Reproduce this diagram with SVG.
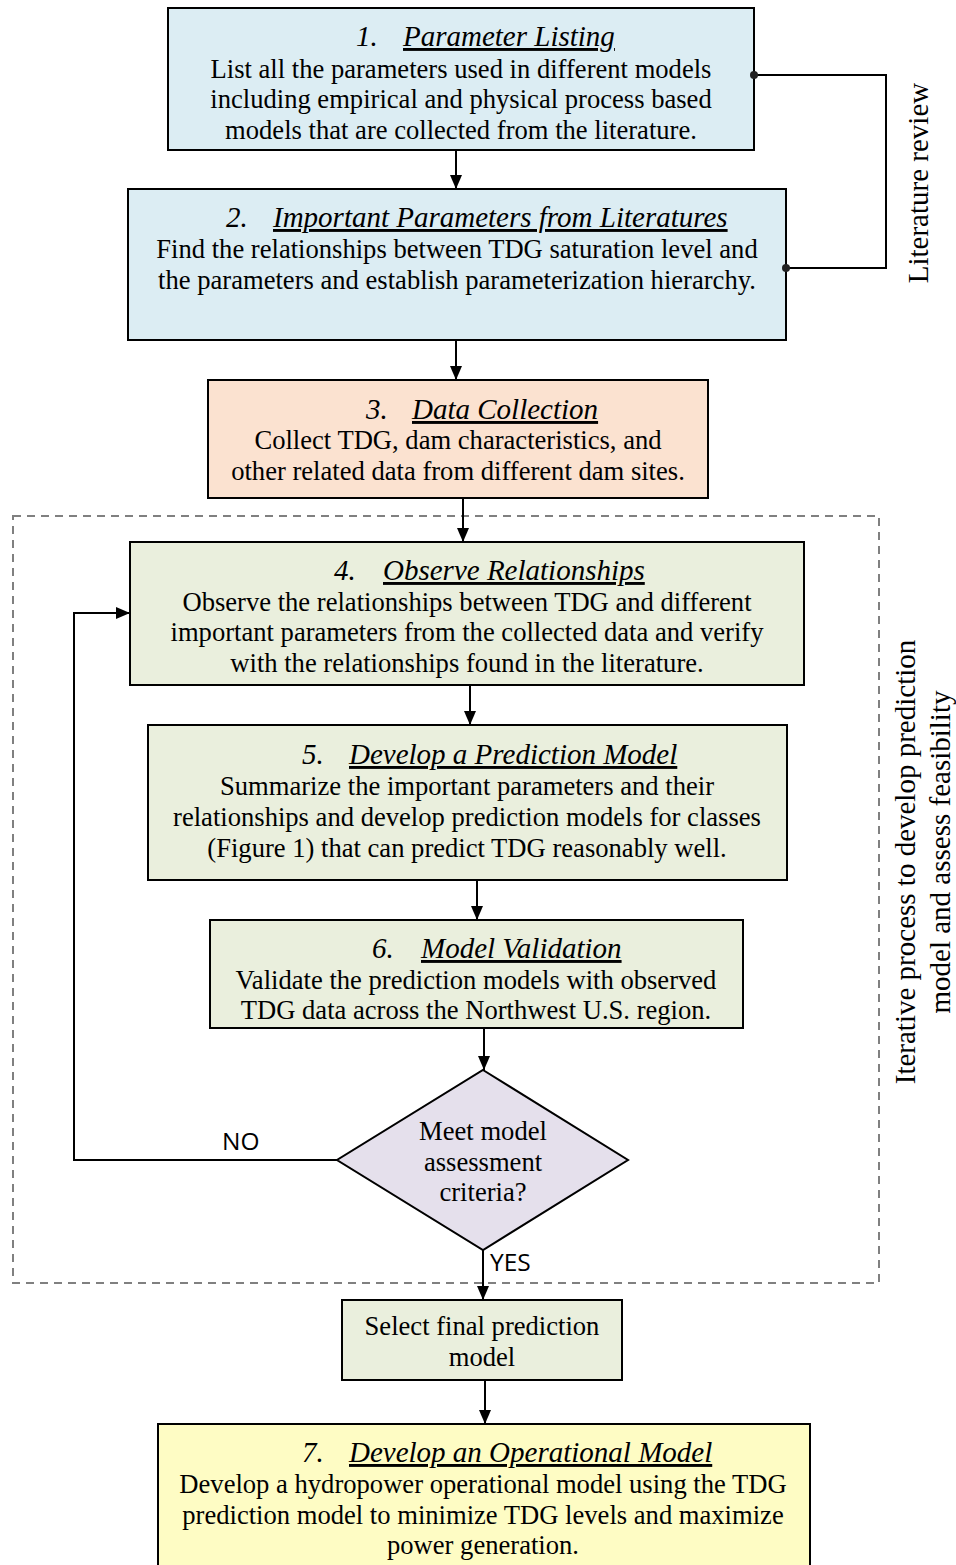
<svg xmlns="http://www.w3.org/2000/svg" width="956" height="1565" viewBox="0 0 956 1565">
<style>
.box{stroke:#000;stroke-width:2}
.t{font-family:"Liberation Serif","Times New Roman",serif;font-size:26.6px;fill:#000}
.c{text-anchor:middle}
.h{font-style:italic;font-size:29px}
.u{text-decoration:underline}
.v{font-size:29px}
.s{font-family:"Open Sans","DejaVu Sans",sans-serif;font-size:24.5px;fill:#000}
.ln{fill:none;stroke:#000;stroke-width:2}
</style>
<defs>
<marker id="ah" markerWidth="14" markerHeight="12" refX="14" refY="6" orient="auto" markerUnits="userSpaceOnUse">
<path d="M0,0 L14,6 L0,12 z" fill="#000"/>
</marker>
</defs>
<rect width="956" height="1565" fill="#fff"/>
<g id="iterative-frame">
<rect x="13" y="516" width="866" height="767" fill="none" stroke="#808080" stroke-width="2" stroke-dasharray="8,6"/>
<text class="t c v" transform="translate(915,862) rotate(-90)">Iterative process to develop prediction</text>
<text class="t c v" transform="translate(950,852) rotate(-90)">model and assess feasibility</text>
</g>
<g id="n1">
<rect class="box" x="168" y="8" width="586" height="142" fill="#dcedf3"/>
<text class="t h" x="356" y="46">1.</text>
<text class="t h u" x="403" y="46">Parameter Listing</text>
<text class="t c" x="461" y="78">List all the parameters used in different models</text>
<text class="t c" x="461" y="108">including empirical and physical process based</text>
<text class="t c" x="461" y="139">models that are collected from the literature.</text>
</g>
<g id="n2">
<rect class="box" x="128" y="189" width="658" height="151" fill="#dcedf3"/>
<text class="t h" x="226" y="227">2.</text>
<text class="t h u" x="273" y="227">Important Parameters from Literatures</text>
<text class="t c" x="457" y="258">Find the relationships between TDG saturation level and</text>
<text class="t c" x="457" y="289">the parameters and establish parameterization hierarchy.</text>
</g>
<g id="lit">
<text class="t c v" transform="translate(928,183) rotate(-90)">Literature review</text>
</g>
<g id="n3">
<rect class="box" x="208" y="380" width="500" height="118" fill="#fbe2d0"/>
<text class="t h" x="366" y="419">3.</text>
<text class="t h u" x="412" y="419">Data Collection</text>
<text class="t c" x="458" y="449">Collect TDG, dam characteristics, and</text>
<text class="t c" x="458" y="480">other related data from different dam sites.</text>
</g>
<g id="n4">
<rect class="box" x="130" y="542" width="674" height="143" fill="#eaefdd"/>
<text class="t h" x="334" y="580">4.</text>
<text class="t h u" x="383" y="580">Observe Relationships</text>
<text class="t c" x="467" y="611">Observe the relationships between TDG and different</text>
<text class="t c" x="467" y="641">important parameters from the collected data and verify</text>
<text class="t c" x="467" y="672">with the relationships found in the literature.</text>
</g>
<g id="n5">
<rect class="box" x="148" y="725" width="639" height="155" fill="#eaefdd"/>
<text class="t h" x="302" y="764">5.</text>
<text class="t h u" x="349" y="764">Develop a Prediction Model</text>
<text class="t c" x="467" y="795">Summarize the important parameters and their</text>
<text class="t c" x="467" y="826">relationships and develop prediction models for classes</text>
<text class="t c" x="467" y="857">(Figure 1) that can predict TDG reasonably well.</text>
</g>
<g id="n6">
<rect class="box" x="210" y="920" width="533" height="108" fill="#eaefdd"/>
<text class="t h" x="372" y="958">6.</text>
<text class="t h u" x="421" y="958">Model Validation</text>
<text class="t c" x="476" y="989">Validate the prediction models with observed</text>
<text class="t c" x="476" y="1019">TDG data across the Northwest U.S. region.</text>
</g>
<g id="decision">
<polygon class="box" points="483,1070 628,1160 483,1250 337,1160" fill="#e5e0ec"/>
<text class="t c" x="483" y="1140">Meet model</text>
<text class="t c" x="483" y="1171">assessment</text>
<text class="t c" x="483" y="1201">criteria?</text>
</g>
<g id="select">
<rect class="box" x="342" y="1300" width="280" height="80" fill="#eaefdd"/>
<text class="t c" x="482" y="1335">Select final prediction</text>
<text class="t c" x="482" y="1366">model</text>
</g>
<g id="n7">
<rect class="box" x="158" y="1424" width="652" height="145" fill="#fefcc4"/>
<text class="t h" x="302" y="1462">7.</text>
<text class="t h u" x="349" y="1462">Develop an Operational Model</text>
<text class="t c" x="483" y="1493">Develop a hydropower operational model using the TDG</text>
<text class="t c" x="483" y="1524">prediction model to minimize TDG levels and maximize</text>
<text class="t c" x="483" y="1554">power generation.</text>
</g>
<g id="connectors">
<line class="ln" x1="456" y1="150" x2="456" y2="189" marker-end="url(#ah)"/>
<line class="ln" x1="456" y1="340" x2="456" y2="380" marker-end="url(#ah)"/>
<line class="ln" x1="463" y1="498" x2="463" y2="542" marker-end="url(#ah)"/>
<line class="ln" x1="470" y1="685" x2="470" y2="725" marker-end="url(#ah)"/>
<line class="ln" x1="477" y1="880" x2="477" y2="920" marker-end="url(#ah)"/>
<line class="ln" x1="484" y1="1029" x2="484" y2="1070" marker-end="url(#ah)"/>
<line class="ln" x1="483" y1="1250" x2="483" y2="1300" marker-end="url(#ah)"/>
<line class="ln" x1="485" y1="1380" x2="485" y2="1424" marker-end="url(#ah)"/>
<polyline class="ln" points="337,1160 74,1160 74,613 130,613" marker-end="url(#ah)"/>
<polyline class="ln" points="754,75 886,75 886,268 786,268"/>
<circle cx="754" cy="75" r="4" fill="#222"/>
<circle cx="786" cy="268" r="4" fill="#222"/>
<text class="s" x="222" y="1150">NO</text>
<text class="s" x="490" y="1271">YES</text>
</g>
</svg>
